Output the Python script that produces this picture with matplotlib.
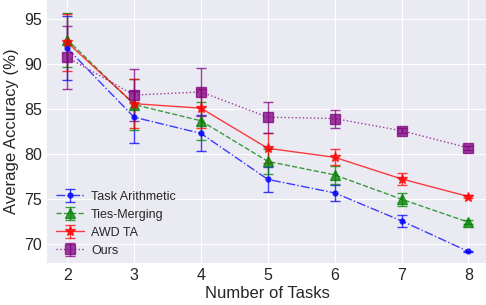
import numpy as np
import matplotlib
matplotlib.use("Agg")
import matplotlib.pyplot as plt

# Data
tasks = [2, 3, 4, 5, 6, 7, 8]

ta_mean = [91.75, 84.1, 82.3, 77.2, 75.7, 72.6, 69.2]
ta_err = [3.55, 2.9, 2.0, 1.4, 0.92, 0.69, 0.1]

ties_mean = [92.7, 85.5, 83.7, 79.2, 77.7, 75.0, 72.45]
ties_err = [3.0, 2.85, 2.1, 1.4, 1.0, 0.74, 0.2]

awd_mean = [92.4, 85.6, 85.1, 80.65, 79.65, 77.25, 75.3]
awd_err = [3.2, 2.7, 2.15, 1.65, 0.88, 0.7, 0.15]

ours_mean = [90.75, 86.55, 86.9, 84.1, 83.95, 82.6, 80.7]
ours_err = [3.5, 2.85, 2.7, 1.7, 1.0, 0.3, 0.2]

plt.style.use("seaborn-v0_8-darkgrid")
plt.rcParams["font.family"] = ["Liberation Sans", "DejaVu Sans"]

fig = plt.figure(figsize=(4.86, 3.05), dpi=100)
ax = fig.add_axes([0.097, 0.137, 0.908, 0.863])

common = dict(capsize=3.5, linewidth=1.0, elinewidth=1.0, alpha=0.75)
ax.errorbar(tasks, ta_mean, yerr=ta_err, color="blue", linestyle="-.", marker="o",
            markersize=3.5, label="Task Arithmetic", **common)
ax.errorbar(tasks, ties_mean, yerr=ties_err, color="green", linestyle="--", marker="^",
            markersize=6.5, label="Ties-Merging", **common)
ax.errorbar(tasks, awd_mean, yerr=awd_err, color="red", linestyle="-", marker="*",
            markersize=7.5, label="AWD TA", **common)
ax.errorbar(tasks, ours_mean, yerr=ours_err, color="purple", linestyle=":", marker="s",
            markersize=6.5, label="Ours", **common)

ax.set_xlim(1.7, 8.3)
ax.set_ylim(67.9, 97.1)
ax.set_xticks(tasks)
ax.set_yticks([70, 75, 80, 85, 90, 95])
ax.tick_params(labelsize=11.5)
ax.set_xlabel("Number of Tasks", fontsize=12, labelpad=2)
ax.set_ylabel("Average Accuracy (%)", fontsize=12, labelpad=4)

ax.legend(loc="lower left", fontsize=9, frameon=False, bbox_to_anchor=(-0.005, -0.018),
          labelspacing=0.48, handlelength=2.2, handletextpad=0.6)

fig.savefig("out.png", dpi=100)
